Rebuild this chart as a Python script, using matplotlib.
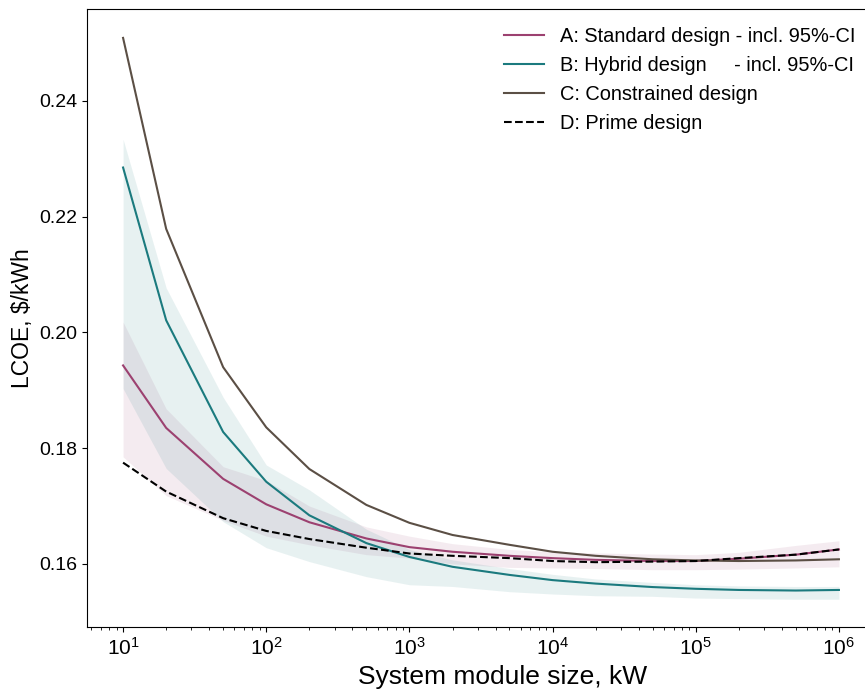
import numpy as np
import matplotlib
matplotlib.use('Agg')
import matplotlib.pyplot as plt

plt.rcParams['font.family'] = ['Liberation Sans', 'DejaVu Sans']
plt.rcParams['mathtext.fontset'] = 'custom'
plt.rcParams['mathtext.rm'] = 'Liberation Sans'
plt.rcParams['mathtext.it'] = 'Liberation Sans'

# module sizes, kW
size_kw = [10, 20, 50, 100, 200, 500, 1e3, 2e3, 5e3, 1e4, 2e4, 5e4, 1e5, 2e5, 5e5, 1e6]

# A: standard design (mean + 95%-CI)
std_mean = [0.1943, 0.1835, 0.1747, 0.1703, 0.1672, 0.1644, 0.1629, 0.1621,
            0.1614, 0.1610, 0.1607, 0.1605, 0.1605, 0.1609, 0.1616, 0.1625]
std_hi = [0.2018, 0.1868, 0.1768, 0.1744, 0.1700, 0.1664, 0.1648, 0.1635,
          0.1625, 0.1621, 0.1619, 0.1617, 0.1616, 0.1620, 0.1632, 0.1640]
std_lo = [0.1785, 0.1718, 0.1675, 0.1648, 0.1633, 0.1616, 0.1610, 0.1600,
          0.1594, 0.1593, 0.1592, 0.1590, 0.1590, 0.1591, 0.1593, 0.1595]

# B: hybrid design (mean + 95%-CI)
hyb_mean = [0.2285, 0.2021, 0.1828, 0.1742, 0.1684, 0.1636, 0.1612, 0.1595,
            0.1581, 0.1572, 0.1566, 0.1560, 0.1557, 0.1555, 0.1554, 0.1555]
hyb_hi = [0.2334, 0.2077, 0.1888, 0.1771, 0.1728, 0.1660, 0.1625, 0.1607,
          0.1592, 0.1582, 0.1574, 0.1568, 0.1564, 0.1562, 0.1561, 0.1561]
hyb_lo = [0.1903, 0.1765, 0.1673, 0.1628, 0.1604, 0.1578, 0.1564, 0.1561,
          0.1552, 0.1548, 0.1545, 0.1544, 0.1541, 0.1540, 0.1539, 0.1539]

# C: constrained design
con_mean = [0.2509, 0.2179, 0.1940, 0.1836, 0.1764, 0.1702, 0.1671, 0.1650,
            0.1633, 0.1621, 0.1614, 0.1608, 0.1606, 0.1605, 0.1606, 0.1608]

# D: prime design
prime = [0.1775, 0.1725, 0.1679, 0.1657, 0.1643, 0.1628, 0.1618, 0.1614,
         0.1610, 0.1605, 0.1603, 0.1604, 0.1605, 0.1610, 0.1616, 0.1625]

c_std = '#9c4170'
c_hyb = '#1b7a7e'
c_con = '#5b4f45'

fig = plt.figure(figsize=(8.65, 6.89), dpi=100)
ax = fig.add_axes([0.1006, 0.09, 0.8984, 0.897])

ax.fill_between(size_kw, std_lo, std_hi, color=c_std, alpha=0.1, lw=0)
ax.fill_between(size_kw, hyb_lo, hyb_hi, color=c_hyb, alpha=0.1, lw=0)

ax.plot(size_kw, std_mean, color=c_std, lw=1.5, label='A: Standard design - incl. 95%-CI')
ax.plot(size_kw, hyb_mean, color=c_hyb, lw=1.5, label='B: Hybrid design     - incl. 95%-CI')
ax.plot(size_kw, con_mean, color=c_con, lw=1.5, label='C: Constrained design')
ax.plot(size_kw, prime, color='black', lw=1.5, ls='--', label='D: Prime design')

ax.set_xscale('log')
ax.set_xlim(5.6, 1.5e6)
ax.set_ylim(0.1491, 0.2559)
ax.set_yticks([0.16, 0.18, 0.20, 0.22, 0.24])
ax.set_yticklabels(['0.16', '0.18', '0.20', '0.22', '0.24'])
ax.tick_params(axis='y', labelsize=14)
ax.tick_params(axis='x', which='major', labelsize=15)
ax.spines['right'].set_visible(False)

ax.set_xlabel('System module size, kW', fontsize=19)
ax.xaxis.set_label_coords(0.535, -0.062)
ax.set_ylabel('LCOE, $/kWh', fontsize=16.5)

ax.legend(loc='upper right', bbox_to_anchor=(0.9987, 0.983), frameon=False,
          fontsize=14.4, handlelength=2.0, borderaxespad=0, labelspacing=0.5)

fig.savefig('out.png', dpi=100)
